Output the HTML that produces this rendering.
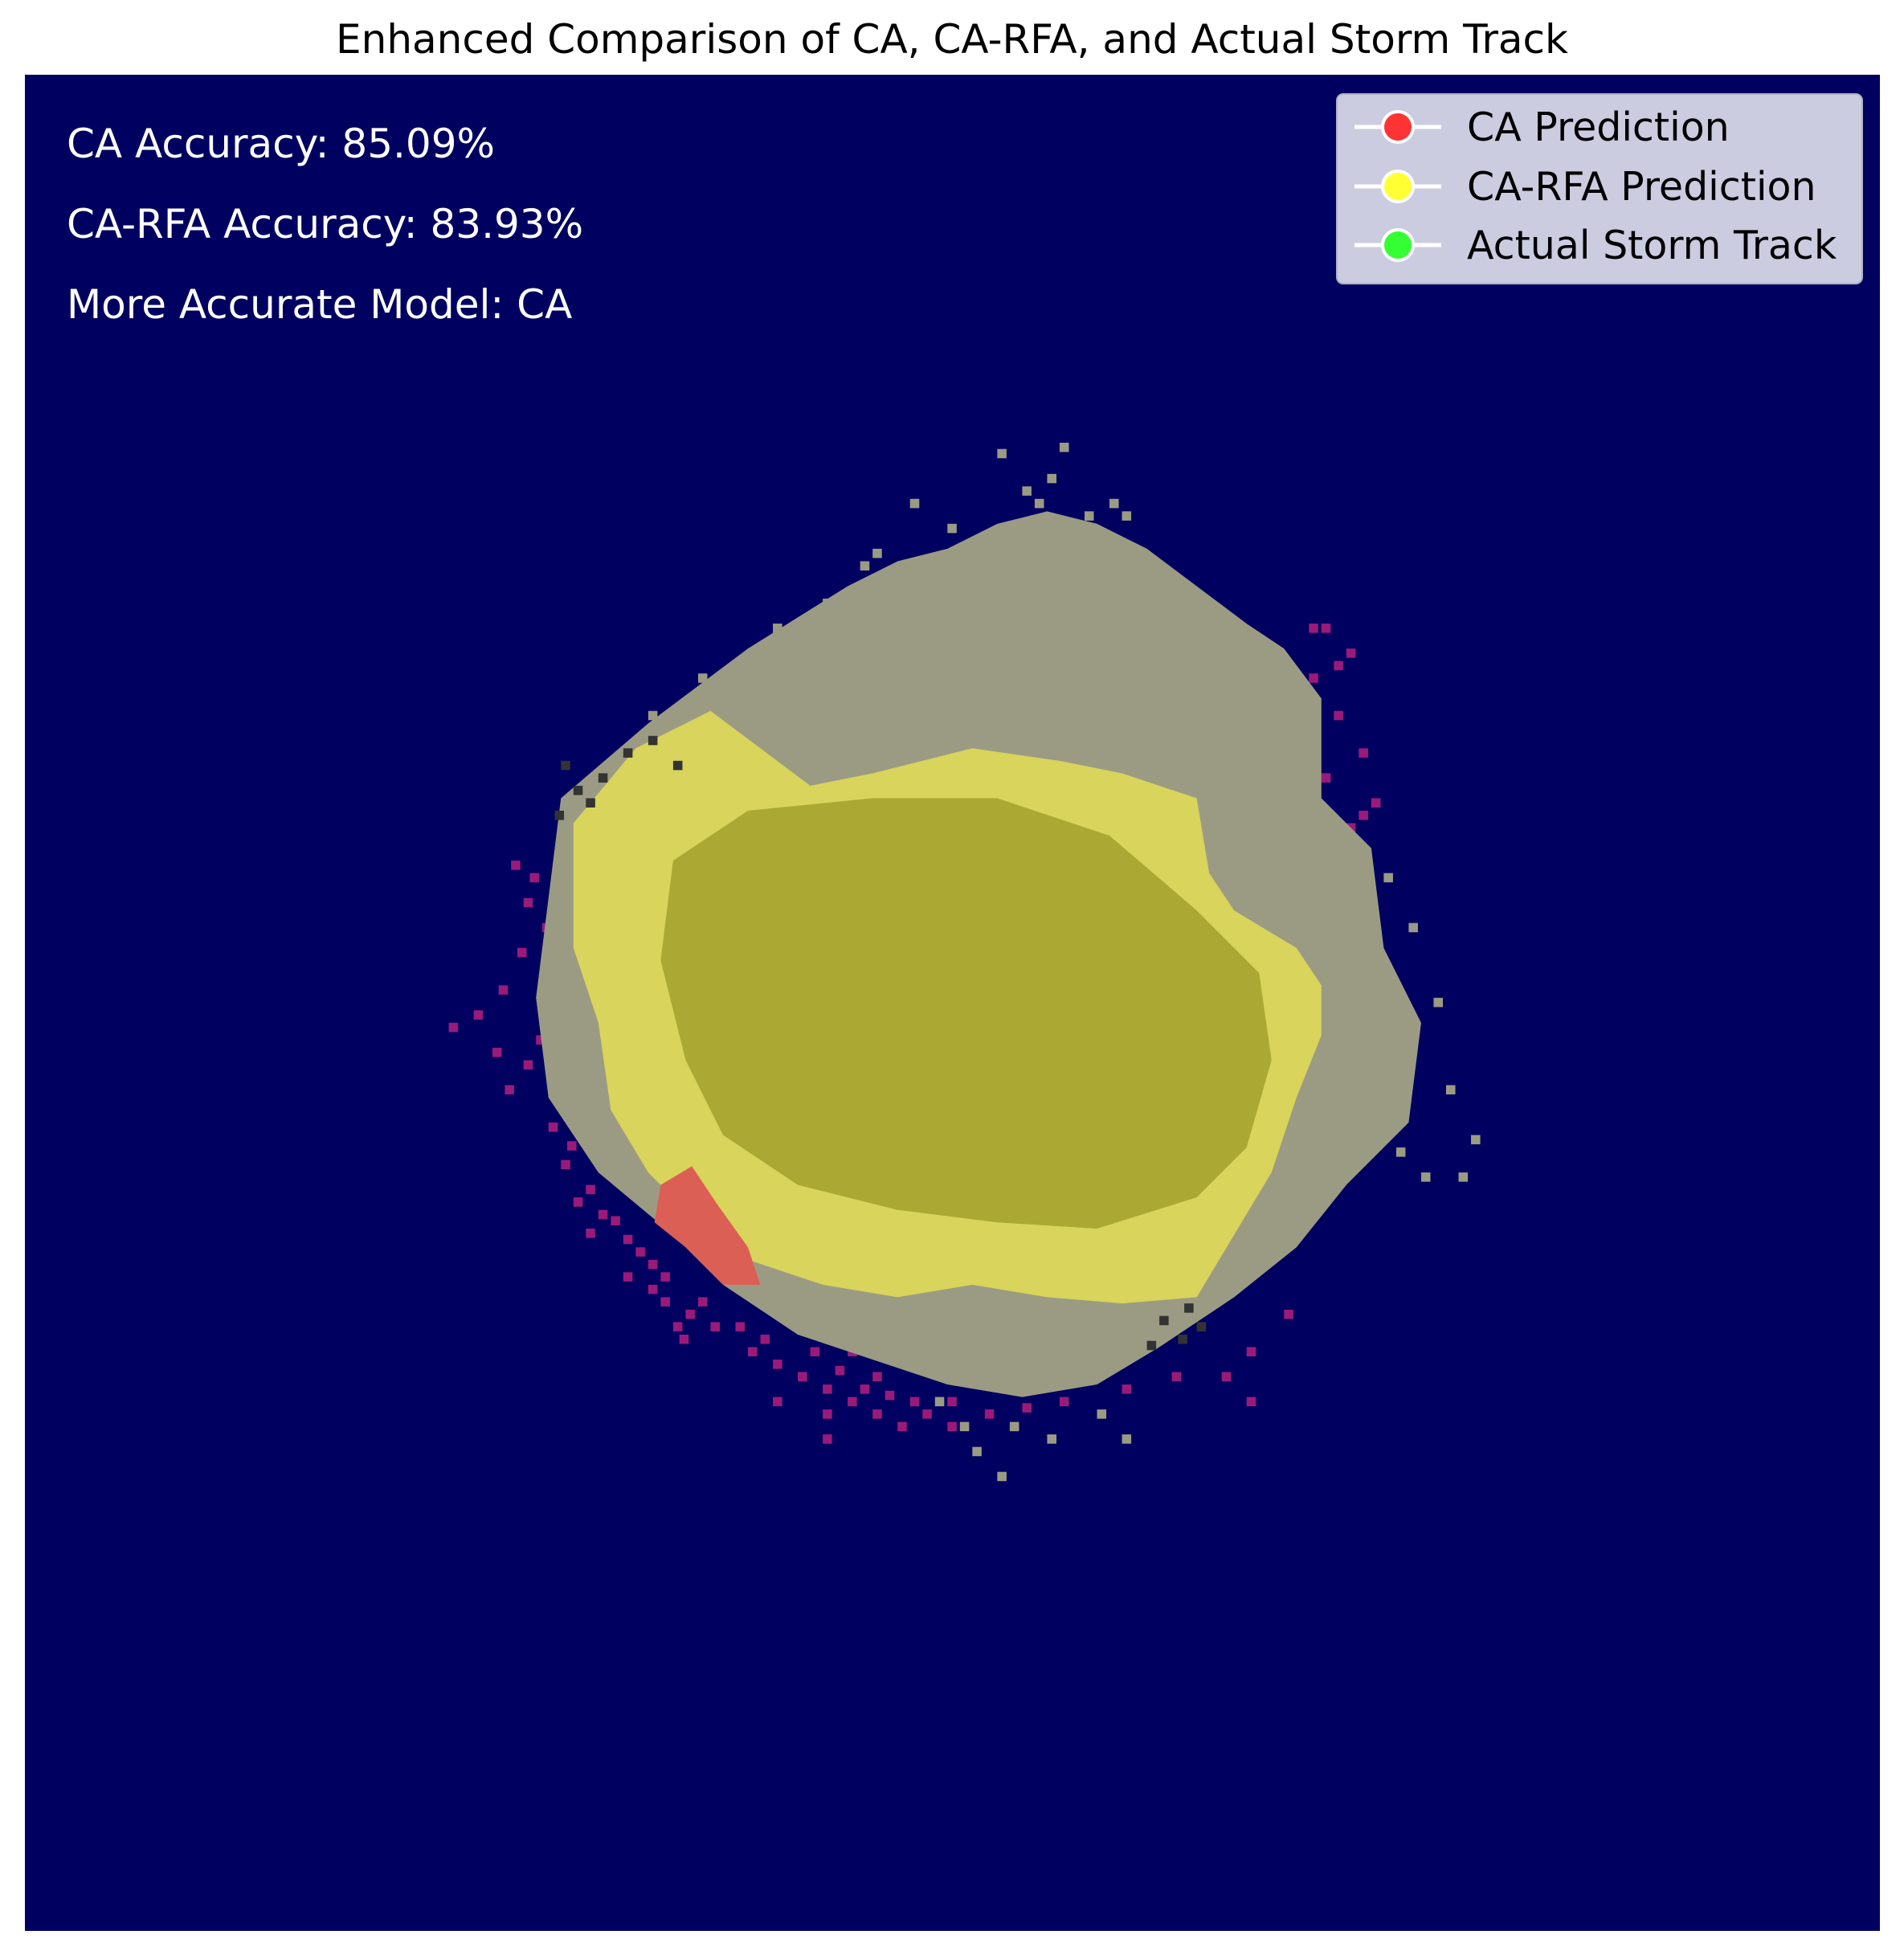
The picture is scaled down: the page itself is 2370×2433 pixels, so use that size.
<!DOCTYPE html>
<html><head><meta charset="utf-8"><style>
body{margin:0;background:#fff;}
svg{display:block;font-family:"DejaVu Sans","Liberation Sans",sans-serif;}
</style></head><body>
<svg id="chart" width="2370" height="2433" viewBox="0 0 2370 2433" xmlns="http://www.w3.org/2000/svg">
<rect width="2370" height="2433" fill="#fff"/>
<text x="1185" y="66" text-anchor="middle" font-size="50" fill="#000">Enhanced Comparison of CA, CA-RFA, and Actual Storm Track</text>
<rect x="31" y="93" width="2309" height="2310" fill="#000060"/>
<g id="marks"></g>
<text x="83" y="196" font-size="50" fill="#fff">CA Accuracy: 85.09%</text>
<text x="83" y="296" font-size="50" fill="#fff">CA-RFA Accuracy: 83.93%</text>
<text x="83" y="396" font-size="50" fill="#fff">More Accurate Model: CA</text>
<g>
<rect x="1664" y="117" width="654" height="236" rx="8" fill="#cbcce0" stroke="#b0b0c0" stroke-width="2"/>
<g><line x1="1686" y1="158" x2="1794" y2="158" stroke="#fff" stroke-width="5"/><circle cx="1740" cy="158" r="19" fill="#ff3333" stroke="#fff" stroke-width="4"/><text x="1826" y="175" font-size="49" fill="#000">CA Prediction</text></g>
<g><line x1="1686" y1="232" x2="1794" y2="232" stroke="#fff" stroke-width="5"/><circle cx="1740" cy="232" r="19" fill="#ffff33" stroke="#fff" stroke-width="4"/><text x="1826" y="249" font-size="49" fill="#000">CA-RFA Prediction</text></g>
<g><line x1="1686" y1="305" x2="1794" y2="305" stroke="#fff" stroke-width="5"/><circle cx="1740" cy="305" r="19" fill="#33ff33" stroke="#fff" stroke-width="4"/><text x="1826" y="322" font-size="49" fill="#000">Actual Storm Track</text></g>
</g>
</svg>
<script>
// region outlines in grid units (domain 20..1508 both axes)
const grayRegion=[[450,640],[520,580],[600,520],[680,470],[720,450],[760,440],[800,420],[840,410],[880,420],[920,440],[960,470],[1000,500],[1030,520],[1060,560],[1060,640],[1100,680],[1110,760],[1140,820],[1130,900],[1080,950],[1040,1000],[990,1040],[930,1080],[880,1110],[820,1120],[760,1110],[700,1090],[640,1070],[580,1030],[540,990],[480,940],[440,880],[430,800],[440,720]];
const yellowRegion=[[460,660],[510,600],[570,570],[610,600],[650,630],[700,620],[780,600],[850,610],[900,620],[960,640],[970,700],[990,730],[1040,760],[1060,790],[1060,830],[1040,880],[1020,940],[990,990],[960,1040],[900,1045],[840,1040],[780,1030],[720,1040],[660,1030],[600,1010],[560,980],[520,940],[490,890],[480,820],[460,760]];
const oliveRegion=[[540,690],[600,650],[700,640],[800,640],[890,670],[960,730],[1010,780],[1020,850],[1000,920],[960,960],[880,985],[800,980],[720,970],[640,950],[580,910],[550,850],[530,770]];
const redRegion=[[530,950],[555,935],[575,965],[600,1000],[610,1030],[580,1030],[550,1000],[525,980]];
const magentaCells=[[410,690],[420,720],[415,760],[400,790],[380,810],[360,820],[395,840],[420,850],[440,900],[450,930],[470,950],[480,970],[500,990],[520,1010],[530,1040],[550,1050],[570,1060],[600,1080],[620,1090],[640,1100],[660,1110],[680,1120],[700,1130],[720,1140],[740,1130],[760,1140],[790,1130],[820,1125],[850,1120],[900,1110],[940,1100],[980,1100],[1000,1120],[460,960],[500,1020],[545,1070],[660,1150],[700,1100],[1060,500],[1080,520],[1050,540],[1070,570],[1090,600],[1040,620],[1020,600],[1100,640],[1080,660],[1010,570],[710,480],[740,470],[650,600],[430,830],[445,780],[460,740],[620,1120],[680,1080],[860,1100],[1000,1080],[1030,1050],
[425,700],[435,740],[405,870],[455,915],[490,975],[510,1000],[530,1020],[560,1040],[590,1060],[610,1070],[650,1080],[670,1095],[690,1110],[710,1115],[730,1120],[760,1120],[660,1130],[520,1030],[540,1060],[470,985],[1050,500],[1070,530],[1030,590],[1060,620],[1090,650],[990,510]];
const grayCells=[[800,360],[850,355],[830,400],[870,410],[730,400],[690,450],[620,500],[560,540],[520,570],[1110,700],[1130,740],[1150,800],[1160,870],[1180,910],[1170,940],[1140,940],[1120,920],[800,1180],[780,1160],[840,1150],[900,1150],[820,390],[840,380],[890,400],[900,410],[760,420],[700,440],[660,480],[600,520],[580,540],[750,1120],[770,1140],[810,1140],[880,1130]];
const darkCells=[[450,610],[460,630],[445,650],[480,620],[500,600],[520,590],[540,610],[470,640],[930,1055],[945,1070],[960,1060],[920,1075],[950,1045]];
const svgNS="http://www.w3.org/2000/svg";
const g=document.getElementById('marks');
const X=v=>31+(v-20)*2309/1488, Y=v=>93+(v-60)*2310/1488, CELL=7.44*2309/1488;
function poly(pts,fill,name){const p=document.createElementNS(svgNS,'polygon');
p.setAttribute('points',pts.map(q=>X(q[0])+','+Y(q[1])).join(' '));p.setAttribute('fill',fill);


g.appendChild(p);}
function cells(arr,fill,name){arr.forEach(c=>{const r=document.createElementNS(svgNS,'rect');
r.setAttribute('x',X(c[0]));r.setAttribute('y',Y(c[1]));r.setAttribute('width',CELL);r.setAttribute('height',CELL);r.setAttribute('fill',fill);


g.appendChild(r);});}
cells(magentaCells,'#9a1a7a','ca-only-cell');
cells(grayCells,'#9b9b84','actual-cell');
poly(grayRegion,'#9b9b84','actual-track-region');
poly(yellowRegion,'#d8d45c','ca-rfa-region');
poly(oliveRegion,'#aba833','overlap-core-region');
poly(redRegion,'#dc5f55','ca-miss-region');
cells(darkCells,'#333333','dark-cell');
</script>
</body></html>
